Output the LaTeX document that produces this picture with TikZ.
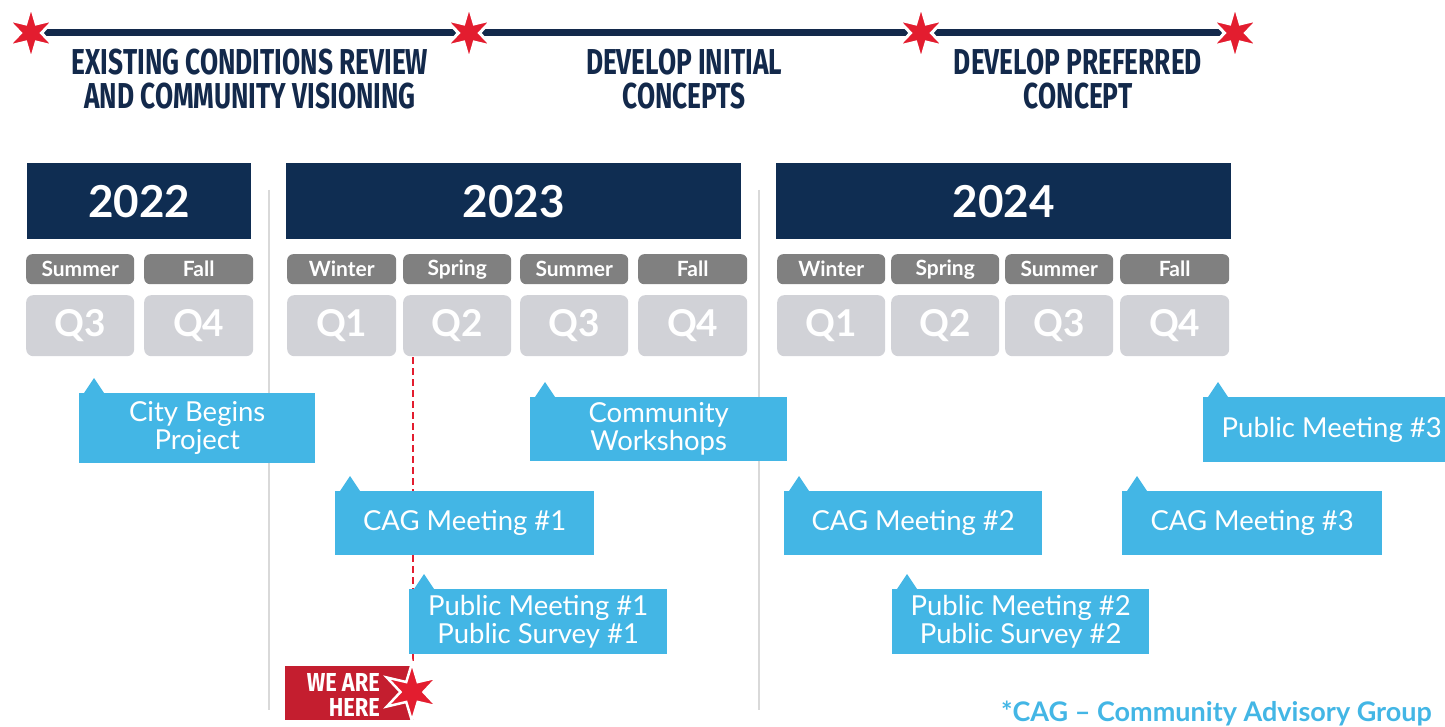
\documentclass[tikz,border=0pt]{standalone}
\usepackage{fontspec}
\setmainfont{Lato}
\newfontfamily\condfont[FakeStretch=0.73]{Fira Sans}
\newfontfamily\herefont[FakeStretch=0.84]{Fira Sans}
\usetikzlibrary{calc}
\definecolor{navy}{HTML}{0F2D52}
\definecolor{titlenavy}{HTML}{13294B}
\definecolor{tabgray}{HTML}{808080}
\definecolor{qgray}{HTML}{D1D2D7}
\definecolor{cblue}{HTML}{43B6E5}
\definecolor{starred}{HTML}{E31D2F}
\definecolor{herered}{HTML}{C41E2F}
\definecolor{sepgray}{HTML}{D9D9D9}
\tikzset{
  starfill/.style={fill=starred, draw=white, line width=2.5, line join=miter},
  phase/.style={text=titlenavy, align=center, font=\condfont\bfseries\fontsize{36}{34}\selectfont},
  yearbox/.style={fill=navy, text=white, anchor=north west, inner sep=0, font=\bfseries\fontsize{44}{44}\selectfont},
  tab/.style={fill=tabgray, rounded corners=6, text=white, anchor=north west, inner sep=0, minimum height=30, font=\bfseries\fontsize{21}{21}\selectfont},
  qbox/.style={fill=qgray, rounded corners=7, text=white, anchor=north west, inner sep=0, minimum height=61, font=\bfseries\fontsize{37}{37}\selectfont},
  callout/.style={fill=cblue, text=white, anchor=north west, inner sep=0, align=center, font=\fontsize{27.5}{28}\selectfont},
  heretxt/.style={text=white, anchor=base east, inner sep=0, font=\herefont\bfseries\fontsize{26}{26}\selectfont},
  sep/.style={draw=sepgray, line width=1.2},
}
\newcommand{\pointer}[1]{\fill[cblue] ([xshift=5pt]#1.north west) -- ++(10,-15) -- ++(10,15) -- cycle;}
\newcommand{\cstar}[4]{%
  \filldraw[starfill, line width=#4, shift={(#1)}] (90:#2) -- (120:#3) -- (150:#2) -- (180:#3) -- (210:#2) -- (240:#3) -- (270:#2) -- (300:#3) -- (330:#2) -- (0:#3) -- (30:#2) -- (60:#3) -- cycle;}
\begin{document}
\begin{tikzpicture}[x=1pt,y=-1pt]
\useasboundingbox (0,0) rectangle (1445,727);
\clip (0,0) rectangle (1445,727);

% separators
\coordinate (sepA1) at (269,190); \coordinate (sepA2) at (269,710);
\coordinate (sepB1) at (759,190); \coordinate (sepB2) at (759,710);
\draw[sep] (sepA1) -- (sepA2);
\draw[sep] (sepB1) -- (sepB2);

% top line and stars
\coordinate (s1) at (31,33);
\coordinate (s2) at (469,33);
\coordinate (s3) at (921,33);
\coordinate (s4) at (1235,33);
\draw[titlenavy, line width=7] (s1) -- (s4);
\cstar{s1}{27}{10.5}{3}
\cstar{s2}{27}{10.5}{3}
\cstar{s3}{27}{10.5}{3}
\cstar{s4}{27}{10.5}{3}

% phase titles
\node[phase] (p1) at (250,79) {EXISTING CONDITIONS REVIEW\\AND COMMUNITY VISIONING};
\node[phase] (p2) at (684,79) {DEVELOP INITIAL\\CONCEPTS};
\node[phase] (p3) at (1078,79) {DEVELOP PREFERRED\\CONCEPT};

% years
\node[yearbox, minimum width=224, minimum height=76] (y22) at (27,163) {2022};
\node[yearbox, minimum width=455, minimum height=76] (y23) at (286,163) {2023};
\node[yearbox, minimum width=455, minimum height=76] (y24) at (776,163) {2024};

% seasons
\node[tab, minimum width=108] (t1) at (26,254) {Summer};
\node[tab, minimum width=109] (t2) at (144,254) {Fall};
\node[tab, minimum width=109] (t3) at (287,254) {Winter};
\node[tab, minimum width=108] (t4) at (403,254) {Spring};
\node[tab, minimum width=108] (t5) at (520,254) {Summer};
\node[tab, minimum width=109] (t6) at (638,254) {Fall};
\node[tab, minimum width=108] (t7) at (777,254) {Winter};
\node[tab, minimum width=108] (t8) at (891,254) {Spring};
\node[tab, minimum width=108] (t9) at (1005,254) {Summer};
\node[tab, minimum width=109] (t10) at (1120,254) {Fall};

% quarters
\node[qbox, minimum width=108] (q1) at (26,295) {Q3};
\node[qbox, minimum width=109] (q2) at (144,295) {Q4};
\node[qbox, minimum width=109] (q3) at (287,295) {Q1};
\node[qbox, minimum width=108] (q4) at (403,295) {Q2};
\node[qbox, minimum width=108] (q5) at (520,295) {Q3};
\node[qbox, minimum width=109] (q6) at (638,295) {Q4};
\node[qbox, minimum width=108] (q7) at (777,295) {Q1};
\node[qbox, minimum width=108] (q8) at (891,295) {Q2};
\node[qbox, minimum width=108] (q9) at (1005,295) {Q3};
\node[qbox, minimum width=109] (q10) at (1120,295) {Q4};

% red dashed "now" line
\coordinate (nowtop) at (413,357);
\coordinate (nowbot) at (413,668);
\draw[starred, line width=2, dash pattern=on 7pt off 4pt] (nowtop) -- (nowbot);

% callouts
\node[callout, minimum width=236, minimum height=70] (c1) at (79,393) {City Begins\\Project};
\pointer{c1}
\node[callout, minimum width=257, minimum height=64] (c2) at (530,397) {Community\\Workshops};
\pointer{c2}
\node[callout, minimum width=257, minimum height=65] (c3) at (1203,397) {Public Meeting \#3};
\pointer{c3}
\node[callout, minimum width=259, minimum height=64] (c4) at (335,491) {CAG Meeting \#1};
\pointer{c4}
\node[callout, minimum width=258, minimum height=64] (c5) at (784,491) {CAG Meeting \#2};
\pointer{c5}
\node[callout, minimum width=260, minimum height=64] (c6) at (1122,491) {CAG Meeting \#3};
\pointer{c6}
\node[callout, minimum width=258, minimum height=65] (c7) at (409,589) {Public Meeting \#1\\Public Survey \#1};
\pointer{c7}
\node[callout, minimum width=257, minimum height=65] (c8) at (892,589) {Public Meeting \#2\\Public Survey \#2};
\pointer{c8}

% we are here
\node[fill=herered, anchor=north west, inner sep=0, minimum width=129, minimum height=54] (here) at (285,666) {};
\node[heretxt] (here1) at (380,691) {WE ARE};
\node[heretxt] (here2) at (380,716) {HERE};
\coordinate (herestar) at (412,692);
\cstar{herestar}{29}{11.5}{2.5}

% footnote
\node[text=cblue, anchor=east, inner sep=0, font=\bfseries\fontsize{27}{27}\selectfont] (foot) at (1432,714) {*CAG -- Community Advisory Group};
\end{tikzpicture}
\end{document}
